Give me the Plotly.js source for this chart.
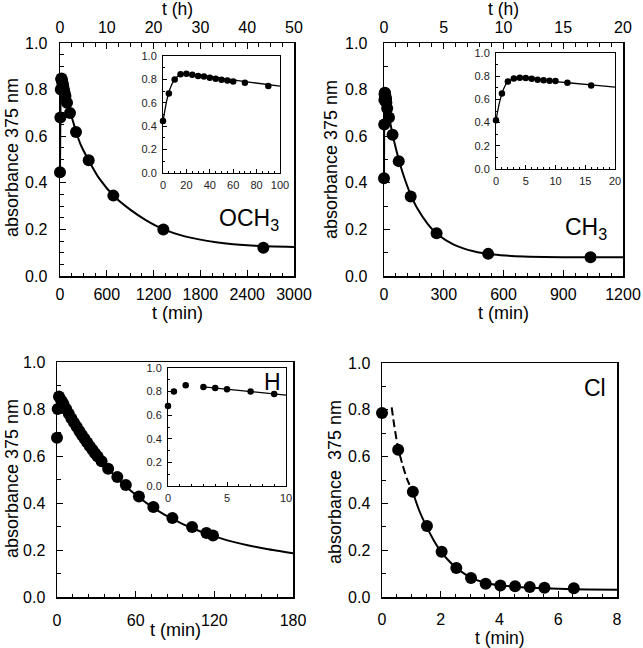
<!DOCTYPE html>
<html><head><meta charset="utf-8">
<script src="https://cdn.plot.ly/plotly-3.0.1.min.js"></script>
<style>html,body{margin:0;padding:0;background:#fff}#plot{width:643px;height:648px}</style>
</head><body><div id="plot"></div>
<script>
// ---- OCH3 panel (t in min) ----
const tOCH3 = [0, 5, 10, 15, 20, 25, 30, 35, 40, 45, 50, 55, 60, 70, 90, 128, 205, 368, 684, 1325, 2607];
const aOCH3 = [0.445, 0.68, 0.80, 0.845, 0.848, 0.84, 0.83, 0.825, 0.814, 0.806, 0.797, 0.79, 0.783, 0.772, 0.744, 0.70, 0.618, 0.497, 0.345, 0.20, 0.121];
const tOCH3fit = [0, 3, 6, 10, 15, 20, 30, 50, 75, 100, 130, 170, 210, 270, 370, 500, 700, 900, 1100, 1330, 1600, 2000, 2500, 3000];
const aOCH3fit = [0.44, 0.61, 0.72, 0.80, 0.84, 0.847, 0.836, 0.81, 0.775, 0.742, 0.705, 0.66, 0.615, 0.56, 0.495, 0.42, 0.34, 0.285, 0.24, 0.20, 0.17, 0.145, 0.13, 0.125];
// ---- CH3 panel ----
const tCH3 = [0, 1, 2, 3, 4, 5, 6, 7, 8, 9, 10, 12, 16, 25, 43, 74, 134, 264, 523, 1037];
const aCH3 = [0.42, 0.65, 0.755, 0.78, 0.786, 0.784, 0.778, 0.77, 0.766, 0.76, 0.758, 0.744, 0.72, 0.68, 0.606, 0.493, 0.341, 0.183, 0.095, 0.080];
const tCH3fit = [0, 0.5, 1, 1.5, 2, 3, 4, 6, 10, 16, 20, 30, 45, 60, 80, 100, 130, 170, 220, 270, 350, 450, 550, 700, 900, 1200];
const aCH3fit = [0.42, 0.555, 0.65, 0.715, 0.752, 0.778, 0.785, 0.775, 0.754, 0.725, 0.706, 0.662, 0.60, 0.546, 0.482, 0.427, 0.357, 0.286, 0.223, 0.178, 0.135, 0.106, 0.092, 0.084, 0.081, 0.080];
// ---- H panel ----
const tH = [0, 0.5, 1.5, 3, 4, 5, 7, 9, 11, 13, 15, 17, 19, 21, 23, 25, 27, 29, 31, 34, 39, 46, 52.5, 62.5, 73.5, 88, 103, 114, 119];
const aH = [0.678, 0.80, 0.853, 0.838, 0.83, 0.819, 0.80, 0.78, 0.76, 0.742, 0.724, 0.706, 0.689, 0.673, 0.657, 0.642, 0.627, 0.612, 0.598, 0.578, 0.546, 0.511, 0.477, 0.428, 0.383, 0.336, 0.298, 0.272, 0.262];
const tHfit = [3, 10, 20, 30, 40, 50, 60, 70, 80, 90, 100, 120, 140, 160, 180];
const aHfit = [0.840, 0.770, 0.681, 0.605, 0.540, 0.483, 0.435, 0.393, 0.357, 0.327, 0.300, 0.258, 0.227, 0.204, 0.186];
// ---- Cl panel ----
const tCl = [0, 0.55, 1.05, 1.53, 2.03, 2.53, 3.03, 3.53, 4.03, 4.53, 5.03, 5.53, 6.53];
const aCl = [0.786, 0.629, 0.45, 0.303, 0.193, 0.124, 0.081, 0.057, 0.049, 0.046, 0.043, 0.04, 0.037];
const tClDash = [0.33, 0.42, 0.55, 0.7, 0.85, 1.03];
const aClDash = [0.81, 0.73, 0.635, 0.565, 0.505, 0.455];
const tClFit = [1.03, 1.25, 1.5, 1.75, 2.0, 2.25, 2.5, 2.75, 3.0, 3.5, 4.0, 4.5, 5.0, 5.5, 6.0, 7.0, 8.0];
const aClFit = [0.455, 0.375, 0.305, 0.245, 0.195, 0.158, 0.127, 0.104, 0.084, 0.061, 0.05, 0.044, 0.04, 0.037, 0.035, 0.032, 0.031];
// tick labels
const yTicks = [0, 0.2, 0.4, 0.6, 0.8, 1.0];
const yTickText = ['0.0', '0.2', '0.4', '0.6', '0.8', '1.0'];

const W = 643, H = 648;
const px = v => v / W, py = v => 1 - v / H;
const FONT = 'Liberation Sans, Arial, sans-serif';

function upTo(ts, as, max) {
  const x = [], y = [];
  ts.forEach((t, i) => { if (t <= max) { x.push(t); y.push(as[i]); } });
  return {x, y};
}
function lineTr(x, y, xa, ya, w, dash) {
  return {x, y, xaxis: xa, yaxis: ya, mode: 'lines', type: 'scatter', cliponaxis: false,
    line: {color: '#000', width: w, shape: 'spline', smoothing: 0.6, dash: dash || 'solid'}, hoverinfo: 'skip', showlegend: false};
}
function markTr(x, y, xa, ya, s) {
  return {x, y, xaxis: xa, yaxis: ya, mode: 'markers', type: 'scatter', cliponaxis: false,
    marker: {color: '#000', size: s}, hoverinfo: 'skip', showlegend: false};
}

const traces = [];
// panel 1
traces.push(lineTr(tOCH3fit, aOCH3fit, 'x', 'y', 2));
traces.push(markTr(tOCH3, aOCH3, 'x', 'y', 12));
traces.push({x: [], y: [], xaxis: 'x2', yaxis: 'y', type: 'scatter', mode: 'markers', showlegend: false});
let f = upTo(tOCH3fit, aOCH3fit, 100); traces.push(lineTr(f.x, f.y, 'x3', 'y3', 1.3));
f = upTo(tOCH3, aOCH3, 100); traces.push(markTr(f.x, f.y, 'x3', 'y3', 6.5));
// panel 2
traces.push(lineTr(tCH3fit, aCH3fit, 'x4', 'y4', 2));
traces.push(markTr(tCH3, aCH3, 'x4', 'y4', 12));
traces.push({x: [], y: [], xaxis: 'x5', yaxis: 'y4', type: 'scatter', mode: 'markers', showlegend: false});
f = upTo(tCH3fit, aCH3fit, 20); traces.push(lineTr(f.x, f.y, 'x6', 'y6', 1.3));
f = upTo(tCH3, aCH3, 20); traces.push(markTr(f.x, f.y, 'x6', 'y6', 6.5));
// panel 3
traces.push(lineTr(tHfit, aHfit, 'x7', 'y7', 2));
traces.push(markTr(tH, aH, 'x7', 'y7', 12));
f = upTo(tHfit, aHfit, 10); traces.push(lineTr(f.x, f.y, 'x8', 'y8', 1.3));
f = upTo(tH, aH, 10); traces.push(markTr(f.x, f.y, 'x8', 'y8', 6.5));
// panel 4
traces.push(lineTr(tClDash, aClDash, 'x9', 'y9', 2, '8px,4px'));
traces.push(lineTr(tClFit, aClFit, 'x9', 'y9', 2));
traces.push(markTr(tCl, aCl, 'x9', 'y9', 12));

function xAx(dom, anchor, range, dtick, minor, opts) {
  return Object.assign({domain: dom, anchor, range, dtick, tick0: 0, showline: true, linecolor: '#000', linewidth: 1.5,
    mirror: true, ticks: 'inside', ticklen: 6, tickwidth: 1, tickcolor: '#000', showgrid: false, zeroline: false,
    tickfont: {size: 16, color: '#000', family: FONT}, fixedrange: true,
    minor: {dtick: minor, tick0: 0, ticks: 'inside', ticklen: 3.5, tickwidth: 1, tickcolor: '#000', showgrid: false}}, opts || {});
}
function yAx(dom, anchor, minor, opts) {
  return Object.assign({domain: dom, anchor, range: [0, 1], tickvals: yTicks, ticktext: yTickText,
    showline: true, linecolor: '#000', linewidth: 1.5, mirror: true, ticks: 'inside', ticklen: 6, tickwidth: 1,
    tickcolor: '#000', showgrid: false, zeroline: false, tickfont: {size: 16, color: '#000', family: FONT}, fixedrange: true,
    minor: {dtick: minor, tick0: 0, ticks: 'inside', ticklen: 3.5, tickwidth: 1, tickcolor: '#000', showgrid: false}}, opts || {});
}
function inX(dom, anchor, range, dtick, minor) {
  return xAx(dom, anchor, range, dtick, minor, {linewidth: 1, ticklen: 4, tickfont: {size: 11, color: '#222', family: FONT},
    minor: {dtick: minor, tick0: 0, ticks: 'inside', ticklen: 2, tickwidth: 1, tickcolor: '#000', showgrid: false}, ticklabelstandoff: 2});
}
function inY(dom, anchor) {
  return yAx(dom, anchor, 0.1, {linewidth: 1, ticklen: 4, tickfont: {size: 11, color: '#222', family: FONT},
    minor: {dtick: 0.1, tick0: 0, ticks: 'inside', ticklen: 2, tickwidth: 1, tickcolor: '#000', showgrid: false}, ticklabelstandoff: 3});
}

const d1x = [px(60), px(294)], d12y = [py(276), py(43)];
const d2x = [px(384), px(623)];
const d3x = [px(57), px(293)], d3y = [py(597), py(362)];
const d4x = [px(382), px(617)], d4y = [py(597), py(363)];

const layout = {
  width: W, height: H, margin: {l: 0, r: 0, t: 0, b: 0}, paper_bgcolor: '#fff', plot_bgcolor: 'rgba(255,255,255,0)',
  font: {family: FONT, color: '#000'}, showlegend: false,
  xaxis: xAx(d1x, 'y', [0, 3000], 600, 150, {ticklabelstandoff: 3}),
  yaxis: yAx(d12y, 'x', 0.05, {ticklabelstandoff: 8}),
  xaxis2: xAx(d1x, 'y', [0, 50], 10, 2.5, {overlaying: 'x', side: 'top', mirror: false, ticklabelstandoff: 2}),
  xaxis3: inX([px(163), px(280)], 'y3', [0, 100], 20, 5),
  yaxis3: inY([py(173), py(56)], 'x3'),
  xaxis4: xAx(d2x, 'y4', [0, 1200], 300, 60, {ticklabelstandoff: 3}),
  yaxis4: yAx(d12y, 'x4', 0.1, {ticklabelstandoff: 12}),
  xaxis5: xAx(d2x, 'y4', [0, 20], 5, 1, {overlaying: 'x4', side: 'top', mirror: false, ticklabelstandoff: 2}),
  xaxis6: inX([px(496), px(615)], 'y6', [0, 20], 5, 1),
  yaxis6: inY([py(169), py(53)], 'x6'),
  xaxis7: xAx(d3x, 'y7', [0, 180], 60, 12, {ticklabelstandoff: 8}),
  yaxis7: yAx(d3y, 'x7', 0.1, {ticklabelstandoff: 7}),
  xaxis8: inX([px(168), px(286)], 'y8', [0, 10], 5, 1),
  yaxis8: inY([py(486), py(368)], 'x8'),
  xaxis9: xAx(d4x, 'y9', [0, 8], 2, 0.5, {ticklabelstandoff: 7}),
  yaxis9: yAx(d4y, 'x9', 0.1, {ticklabelstandoff: 7}),
  annotations: []
};

function ann(text, x, y, size, opts) {
  layout.annotations.push(Object.assign({text, x: px(x), y: py(y), xref: 'paper', yref: 'paper', showarrow: false,
    xanchor: 'center', yanchor: 'middle', font: {size, color: '#000', family: FONT}}, opts || {}));
}
ann('t (h)', 177, 9, 17.5);
ann('t (h)', 503, 9, 17.5);
ann('t (min)', 177, 313, 18);
ann('t (min)', 503, 313, 18);
ann('t (min)', 175, 630, 18);
ann('t (min)', 500, 638, 17.5);
ann('absorbance 375 nm', 12, 158, 18, {textangle: -90});
ann('absorbance 375 nm', 331, 160, 18, {textangle: -90});
ann('absorbance 375 nm', 12, 479, 18, {textangle: -90});
ann('absorbance&nbsp;&nbsp;375 nm', 335, 482, 18, {textangle: -90});
ann('OCH<sub>3</sub>', 281, 220, 23, {xanchor: 'right'});
ann('CH<sub>3</sub>', 609, 228, 23, {xanchor: 'right'});
ann('H', 283, 382, 23, {xanchor: 'right'});
ann('Cl', 608, 388, 23, {xanchor: 'right'});

Plotly.newPlot('plot', traces, layout, {staticPlot: true, displayModeBar: false});
</script></body></html>
